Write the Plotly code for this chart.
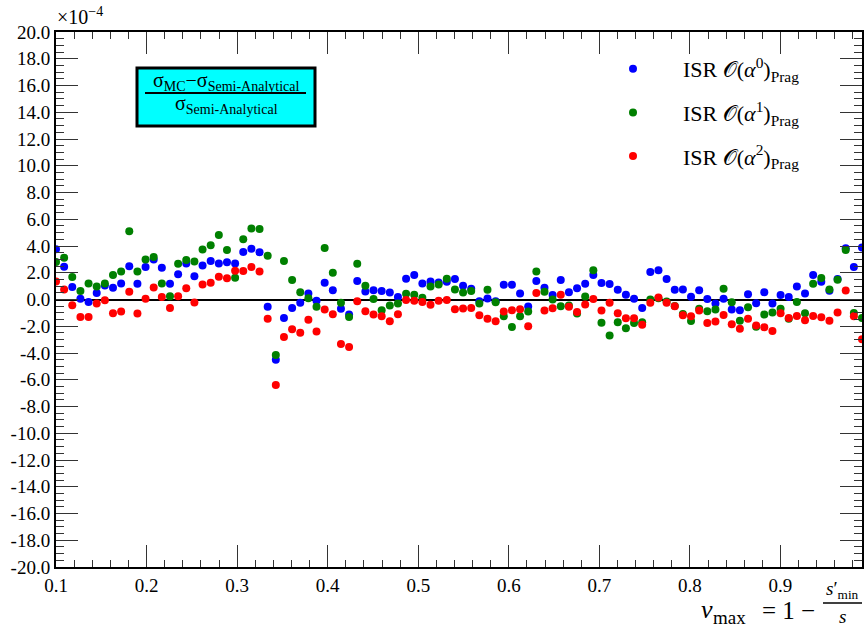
import numpy as np
import plotly.graph_objects as go

# x grid: v_max values (100 evenly spaced samples)
v_max = np.round(np.linspace(0.1, 0.99, 100), 5)

# relative difference (units of 1e-4)
isr_a0 = [3.75, 2.45, 0.93, 0.05, -0.18, 0.48, 1.05, 0.88, 1.2, 2.48,
          1.18, 2.43, 3.0, 2.38, 1.18, 1.88, 2.7, 1.73, 2.55, 2.88,
          2.7, 2.78, 2.7, 3.55, 3.8, 3.53, -0.55, -4.5, -1.38, -0.63,
          -0.25, 0.45, -0.1, 1.25, 0.7, -0.7, -1.13, 1.38, 0.6, 0.7,
          0.63, 0.53, 0.18, 1.55, 1.83, 1.2, 1.35, 1.27, 1.32, 1.53,
          1.03, 0.8, -0.13, 0.08, -0.13, 1.1, 1.1, 0.45, -0.53, 1.38,
          0.88, 0.33, 1.45, 0.55, 0.85, 1.18, 1.83, 1.23, 1.15, 0.73,
          0.35, 0.05, -0.63, 2.05, 2.18, 1.53, 0.73, 0.75, 0.2, 0.7,
          0.03, -0.3, 0.05, -0.75, -0.8, 0.4, -0.28, 0.55, -0.3, 0.33,
          0.18, 0.98, 0.45, 1.83, 1.33, 0.65, 1.53, 3.83, 2.43, 3.88]

isr_a1 = [2.8, 3.13, 1.68, 0.63, 1.2, 0.98, 1.2, 1.83, 2.1, 5.1,
          2.1, 3.0, 3.18, 1.2, 0.25, 2.68, 2.95, 2.85, 3.73, 4.05,
          4.83, 3.7, 1.63, 4.5, 5.3, 5.28, 3.28, -4.15, 2.88, 1.45,
          0.55, 0.1, -0.55, 3.85, 2.0, -0.25, -1.3, 2.68, 1.03, 0.03,
          -0.8, -0.45, -0.3, 0.43, 0.35, 0.13, 0.98, 1.12, 1.55, 0.75,
          0.53, 0.63, -0.3, 0.73, -0.2, -1.25, -2.05, -1.25, -0.9, 2.1,
          0.58, 0.0, -0.5, -0.45, -1.04, 0.23, 2.18, -1.73, -2.7, -1.7,
          -2.15, -1.75, -1.7, 0.0, 0.1, -0.15, -0.48, -1.08, -1.6, -0.7,
          -0.88, -0.75, 0.8, -0.2, -1.58, -0.58, -2.03, -1.13, -0.98, -0.7,
          -1.43, -0.18, -1.03, 1.18, 1.6, 0.75, 1.48, 3.7, -1.0, -1.38]

isr_a2 = [1.35, 0.75, -0.43, -1.3, -1.3, -0.3, -0.05, -1.03, -0.9, 0.58,
          -1.05, 0.05, 0.9, 0.18, -0.63, 0.25, 0.85, -0.23, 1.13, 1.25,
          1.7, 1.58, 2.15, 2.13, 2.43, 2.1, -1.43, -6.4, -2.8, -2.23,
          -2.48, -1.52, -2.4, -0.75, -1.1, -3.33, -3.55, -0.13, -0.88, -1.13,
          -1.25, -1.63, -1.1, -0.03, -0.1, -0.18, -0.4, -0.09, -0.04, -0.73,
          -0.68, -0.63, -1.18, -1.43, -1.63, -0.9, -0.8, -0.73, -2.0, 0.48,
          -0.83, -0.65, 0.35, -0.55, -0.94, -0.38, 0.03, -0.83, -0.25, -1.03,
          -1.4, -1.4, -1.88, -0.25, 0.15, -0.25, -0.5, -1.18, -1.25, -0.82,
          -1.76, -1.65, -1.15, -1.85, -2.18, -1.43, -1.95, -2.08, -2.35, -1.03,
          -1.38, -1.23, -1.55, -1.23, -1.33, -1.58, -0.98, 0.68, -1.25, -2.98]

series_names = ["ISR 𝒪(<i>α</i><sup>0</sup>)<sub>Prag</sub>",
                "ISR 𝒪(<i>α</i><sup>1</sup>)<sub>Prag</sub>",
                "ISR 𝒪(<i>α</i><sup>2</sup>)<sub>Prag</sub>"]
series_colors = ["#0000ff", "#008000", "#ff0000"]
series_values = [isr_a0, isr_a1, isr_a2]

y_tickvals = list(range(-20, 21, 2))
y_ticktext = ["%.1f" % v for v in y_tickvals]

SERIF = "Liberation Serif, serif"

fig = go.Figure()
for name, col, vals in zip(series_names, series_colors, series_values):
    fig.add_trace(go.Scatter(
        x=v_max, y=vals, mode="markers", name=name,
        legendgroup=name,
        marker=dict(color=col, size=8, line=dict(width=0)),
        cliponaxis=True,
    ))

L, R, T, B = 56, 3, 32, 62
W, H = 865, 629
pw, ph = W - L - R, H - T - B


def px(xp):
    return (xp - L) / pw


def py(yp):
    return (H - B - yp) / ph


fig.update_layout(
    width=W, height=H,
    margin=dict(l=L, r=R, t=T, b=B, autoexpand=False),
    paper_bgcolor="white", plot_bgcolor="white",
    font=dict(family=SERIF, color="black", size=18),
    showlegend=True,
    legend=dict(x=px(583), y=py(48), xanchor="left", yanchor="top",
                bgcolor="rgba(0,0,0,0)", font=dict(family=SERIF, size=22),
                tracegroupgap=12, itemwidth=90),
    xaxis=dict(range=[0.1, 0.99], dtick=0.1, tick0=0.1, tickformat=".1f",
               automargin=False,
               showgrid=False, zeroline=False,
               ticks="inside", ticklen=22, tickwidth=1, tickcolor="#333",
               showline=True, linecolor="black", linewidth=2, mirror="allticks",
               minor=dict(dtick=0.02, ticks="inside", ticklen=7, tickcolor="#333", showgrid=False),
               tickfont=dict(family=SERIF, size=19)),
    yaxis=dict(range=[-20, 20], tickvals=y_tickvals, ticktext=y_ticktext,
               automargin=False,
               showgrid=False, zeroline=True, zerolinecolor="black", zerolinewidth=2,
               ticks="inside", ticklen=22, tickwidth=1, tickcolor="#333",
               showline=True, linecolor="black", linewidth=2, mirror="allticks",
               minor=dict(dtick=0.5, ticks="inside", ticklen=8, tickcolor="#333", showgrid=False),
               tickfont=dict(family=SERIF, size=19)),
)

shapes = [
    # cyan box for the quantity label
    dict(type="rect", xref="paper", yref="paper",
         x0=px(137), x1=px(315), y0=py(126), y1=py(68),
         fillcolor="#00ffff", line=dict(color="black", width=3)),
    dict(type="line", xref="paper", yref="paper",
         x0=px(145), x1=px(306), y0=py(93), y1=py(93),
         line=dict(color="black", width=2)),
    # axis title fraction bar
    dict(type="line", xref="paper", yref="paper",
         x0=px(823), x1=px(862), y0=py(603), y1=py(603),
         line=dict(color="black", width=1.5)),
]
fig.update_layout(shapes=shapes)

ann = [
    dict(text="×10<sup>−4</sup>", x=px(55), y=py(16), xanchor="left", yanchor="middle",
         font=dict(size=20)),
    dict(text="σ<sub>MC</sub>−σ<sub>Semi-Analytical</sub>", x=px(226), y=py(81),
         xanchor="center", yanchor="middle", font=dict(size=20)),
    dict(text="σ<sub>Semi-Analytical</sub>", x=px(226), y=py(105),
         xanchor="center", yanchor="middle", font=dict(size=20)),
    # x-axis title: v_max = 1 - s'_min / s
    dict(text="<i>v</i>", x=px(699), y=py(609),
         xanchor="left", yanchor="middle", font=dict(size=26)),
    dict(text="max", x=px(711), y=py(617),
         xanchor="left", yanchor="middle", font=dict(size=19)),
    dict(text="= 1 −", x=px(817), y=py(610),
         xanchor="right", yanchor="middle", font=dict(size=25)),
    dict(text="<i>s</i>′<sub>min</sub>", x=px(842), y=py(590),
         xanchor="center", yanchor="middle", font=dict(size=19)),
    dict(text="<i>s</i>", x=px(842), y=py(616),
         xanchor="center", yanchor="middle", font=dict(size=19)),
]
for a in ann:
    a.update(xref="paper", yref="paper", showarrow=False)
fig.update_layout(annotations=ann)

fig.write_html("out.html",
               config={"displayModeBar": False},
               post_script="document.body.style.margin='0';document.body.style.padding='0';")
